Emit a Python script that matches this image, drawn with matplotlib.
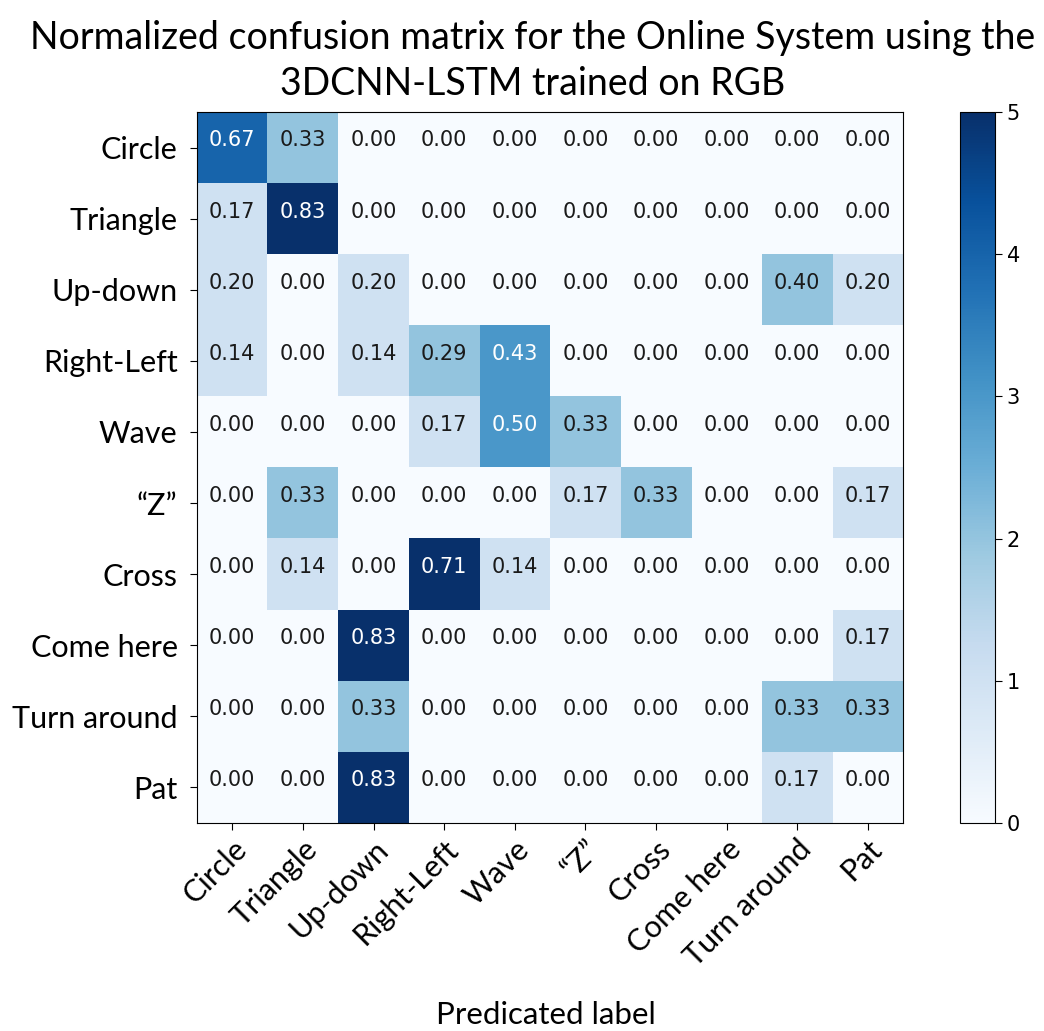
import numpy as np
import matplotlib
matplotlib.use('Agg')
from matplotlib import pyplot as plt

classes = ['Circle', 'Triangle', 'Up-down', 'Right-Left', 'Wave',
           '\u201cZ\u201d', 'Cross', 'Come here', 'Turn around', 'Pat']

# raw counts per true class (rows) vs predicted class (columns)
circle      = [4, 2, 0, 0, 0, 0, 0, 0, 0, 0]
triangle    = [1, 5, 0, 0, 0, 0, 0, 0, 0, 0]
up_down     = [1, 0, 1, 0, 0, 0, 0, 0, 2, 1]
right_left  = [1, 0, 1, 2, 3, 0, 0, 0, 0, 0]
wave        = [0, 0, 0, 1, 3, 2, 0, 0, 0, 0]
z_shape     = [0, 2, 0, 0, 0, 1, 2, 0, 0, 1]
cross       = [0, 1, 0, 5, 1, 0, 0, 0, 0, 0]
come_here   = [0, 0, 5, 0, 0, 0, 0, 0, 0, 1]
turn_around = [0, 0, 2, 0, 0, 0, 0, 0, 2, 2]
pat         = [0, 0, 5, 0, 0, 0, 0, 0, 1, 0]

cm = np.array([circle, triangle, up_down, right_left, wave,
               z_shape, cross, come_here, turn_around, pat])
cm_norm = cm / cm.sum(axis=1, keepdims=True)

label_font = 'Lato'
num_font = 'DejaVu Sans'

fig = plt.figure(figsize=(10.44, 10.31), dpi=100)
ax = fig.add_axes([0.1887, 0.2018, 0.6763, 0.6896])
cax = fig.add_axes([0.9195, 0.2018, 0.0335, 0.6896])

im = ax.imshow(cm, interpolation='nearest', cmap=plt.cm.Blues, vmin=0, vmax=5, aspect='auto')
cb = fig.colorbar(im, cax=cax)
cb.set_ticks([0, 1, 2, 3, 4, 5])
cb.ax.tick_params(labelsize=15, length=5)
for t in cb.ax.get_yticklabels():
    t.set_family(num_font)

ticks = np.arange(len(classes))
ax.set_xticks(ticks)
ax.set_yticks(ticks)
ax.set_xticklabels(classes, family=label_font, fontsize=22)
ax.set_yticklabels(classes, family=label_font, fontsize=22)
plt.setp(ax.get_xticklabels(), rotation=45, ha='right', rotation_mode='anchor')
ax.tick_params(length=5)
ax.tick_params(axis='y', pad=9)

thresh = cm.max() / 2.
for i in range(cm.shape[0]):
    for j in range(cm.shape[1]):
        ax.text(j, i - 0.1, format(cm_norm[i, j], '.2f'),
                ha='center', va='center', fontsize=15, family=num_font,
                color='white' if cm[i, j] > thresh else '#1a1a1a')

fig.text(0.51, 0.963, 'Normalized confusion matrix for the Online System using the',
         ha='center', va='center', family=label_font, fontsize=27)
fig.text(0.51, 0.919, '3DCNN-LSTM trained on RGB',
         ha='center', va='center', family=label_font, fontsize=27)
fig.text(0.523, 0.016, 'Predicated label', ha='center', va='center',
         family=label_font, fontsize=22.5)

fig.savefig('out.png', dpi=100)
